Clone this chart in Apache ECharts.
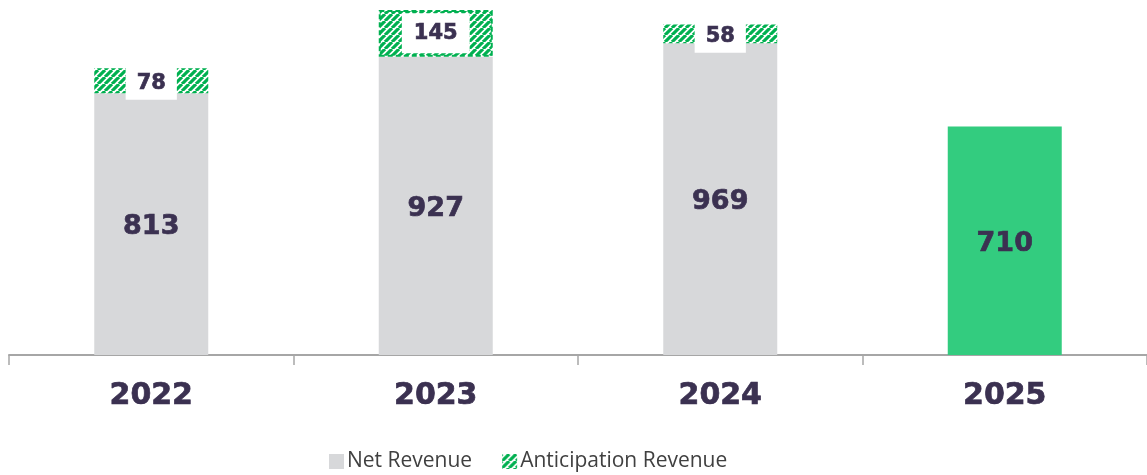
<!DOCTYPE html>
<html>
<head>
<meta charset="utf-8">
<script src="https://cdn.jsdelivr.net/npm/echarts@6/dist/echarts.min.js"></script>
<style>
  html, body { margin: 0; padding: 0; background: #fff; }
  #chart-wrapper { width: 1147px; height: 475px; }
</style>
</head>
<body>
<div id="chart-wrapper"></div>
<script>
const years = ['2022', '2023', '2024', '2025']
const netRevenue = [813, 927, 969, 710]
const anticipationRevenue = [78, 145, 58, null]

const textColor = '#3b3151'
const green = '#00b050'

// diagonal hatch pattern for the anticipation part
const makeHatch = () => {
  const size = 7
  const c = document.createElement('canvas')
  c.width = size
  c.height = size
  const ctx = c.getContext('2d')
  ctx.fillStyle = '#fff'
  ctx.fillRect(0, 0, size, size)
  ctx.strokeStyle = green
  ctx.lineWidth = 3.2
  ctx.beginPath()
  for (let k = -1; k <= 1; k++) {
    ctx.moveTo(k * size, size)
    ctx.lineTo(k * size + size, 0)
  }
  ctx.stroke()
  return c
}
const hatch = { image: makeHatch(), repeat: 'repeat' }

const netData = netRevenue.map((v, i) => ({
  value: v,
  itemStyle: { color: i === 3 ? '#33cc7f' : '#d7d8da' }
}))

// 2023 has a dashed outline and a taller white label box
const antData = anticipationRevenue.map((v, i) => i === 1
  ? {
      value: v,
      itemStyle: { borderColor: green, borderWidth: 2, borderType: [5, 3] },
      label: { padding: [10, 12, 9, 12], offset: [0, 0] }
    }
  : { value: v })

const boldText = {
  fontFamily: 'DejaVu Sans',
  fontWeight: 'bold',
  color: textColor,
  textBorderColor: textColor,
  textBorderWidth: 0.7
}

const chart = echarts.init(document.getElementById('chart-wrapper'))
chart.setOption({
  animation: false,
  backgroundColor: '#fff',
  grid: { left: 9, right: -1, top: 10, bottom: 120 },
  legend: {
    bottom: -2,
    left: 324,
    itemWidth: 15,
    itemHeight: 15,
    itemGap: 30,
    icon: 'rect',
    textStyle: { fontFamily: 'Open Sans', fontSize: 21, color: '#404040', padding: [0, 0, 0, -2] },
    data: ['Net Revenue', 'Anticipation Revenue']
  },
  xAxis: {
    type: 'category',
    data: years,
    axisLine: { lineStyle: { color: '#a6a6a6', width: 2 } },
    axisTick: { show: true, length: 10, lineStyle: { color: '#a6a6a6', width: 1.5 } },
    axisLabel: Object.assign({ margin: 26, fontSize: 30 }, boldText)
  },
  yAxis: {
    type: 'value',
    min: 0,
    max: 1072,
    show: false,
    splitLine: { show: false }
  },
  series: [
    {
      name: 'Net Revenue',
      type: 'bar',
      stack: 'total',
      barWidth: 114,
      data: netData,
      itemStyle: { color: '#d7d8da' },
      label: Object.assign({ show: true, position: 'inside', offset: [0, 3], fontSize: 27 }, boldText)
    },
    {
      name: 'Anticipation Revenue',
      type: 'bar',
      stack: 'total',
      barWidth: 114,
      data: antData,
      itemStyle: { color: hatch },
      label: Object.assign({
        show: true,
        position: 'inside',
        offset: [0, 3],
        backgroundColor: '#fff',
        padding: [6, 11, 5, 11],
        fontSize: 21
      }, boldText)
    }
  ]
})
</script>
</body>
</html>
